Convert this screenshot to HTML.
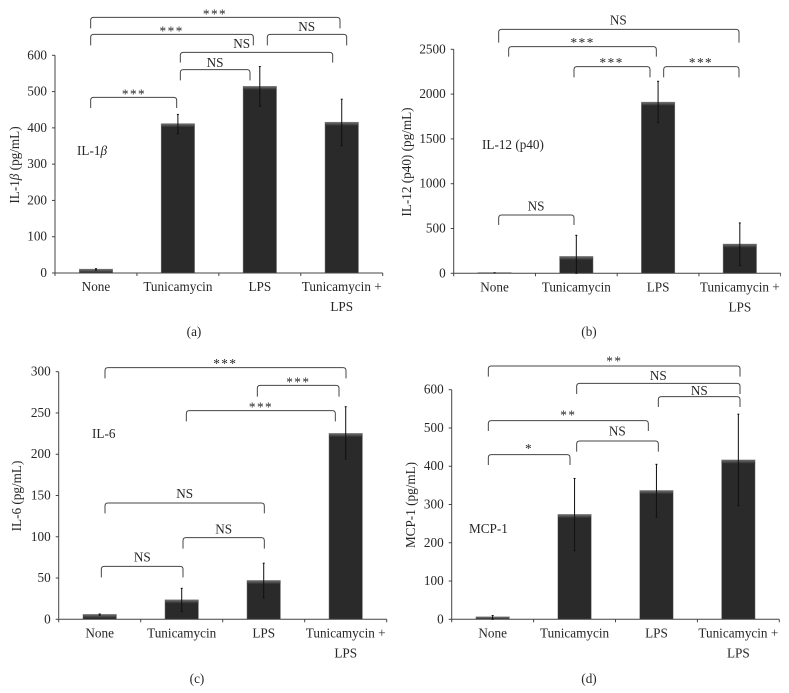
<!DOCTYPE html>
<html lang="en">
<head>
<meta charset="utf-8">
<title>Cytokine bar charts</title>
<style>
html,body{margin:0;padding:0;background:#fff;}
svg{display:block;}
text{font-family:"Liberation Serif",serif;fill:#262626;font-size:13.2px;}
</style>
</head>
<body>
<svg id="figure" xmlns="http://www.w3.org/2000/svg" width="789" height="693" viewBox="0 0 789 693">
  <defs>
    <linearGradient id="barTopShade" x1="0" y1="0" x2="0" y2="1">
      <stop offset="0" stop-color="#6e6e6e"/>
      <stop offset="1" stop-color="#2a2a2a"/>
    </linearGradient>
    <filter id="soften" x="0" y="0" width="100%" height="100%">
      <feGaussianBlur stdDeviation="0.3"/>
    </filter>
  </defs>
  <rect width="789" height="693" fill="#fff"/>

  <g filter="url(#soften)">
  <g id="panel-a"></g>
  <g id="panel-b"></g>
  <g id="panel-c"></g>
  <g id="panel-d"></g>

  <text x="15" y="165" transform="rotate(-90 15 165)" dy="4" text-anchor="middle">IL-1<tspan font-style="italic">β</tspan> (pg/mL)</text>
  <text x="407" y="162" transform="rotate(-90 407 162)" dy="4" text-anchor="middle">IL-12 (p40) (pg/mL)</text>
  <text x="17" y="496" transform="rotate(-90 17 496)" dy="4" text-anchor="middle">IL-6 (pg/mL)</text>
  <text x="411" y="505" transform="rotate(-90 411 505)" dy="4" text-anchor="middle">MCP-1 (pg/mL)</text>

  <text x="77" y="155">IL-1<tspan font-style="italic">β</tspan></text>
  <text x="482" y="149">IL-12 (p40)</text>
  <text x="92" y="438">IL-6</text>
  <text x="469" y="533">MCP-1</text>

  <text x="194" y="336" text-anchor="middle">(a)</text>
  <text x="589" y="336" text-anchor="middle">(b)</text>
  <text x="197" y="683" text-anchor="middle">(c)</text>
  <text x="589" y="683" text-anchor="middle">(d)</text>
  </g>
</svg>

<script>
const categories = ['None', 'Tunicamycin', 'LPS', 'Tunicamycin +|LPS'];

const il1bTicks = [0, 100, 200, 300, 400, 500, 600];
const il1bMeans = [10, 411, 514, 415];
const il1bHigh = [12, 437, 569, 479];
const il1bLow = [8, 384, 459, 351];

const il12Ticks = [0, 500, 1000, 1500, 2000, 2500];
const il12Means = [5, 186, 1908, 324];
const il12High = [6, 424, 2143, 562];
const il12Low = [4, 0, 1682, 86];

const il6Ticks = [0, 50, 100, 150, 200, 250, 300];
const il6Means = [5.7, 23.4, 46.8, 225];
const il6High = [6.5, 37.5, 68, 257.6];
const il6Low = [4.9, 9.3, 26, 194];

const mcp1Ticks = [0, 100, 200, 300, 400, 500, 600];
const mcp1Means = [6, 273.5, 336, 416];
const mcp1High = [10, 368, 405, 536];
const mcp1Low = [0, 179, 267, 297];

const NS = 'http://www.w3.org/2000/svg';

function make(parent, tag, attrs, name) {
  const el = document.createElementNS(NS, tag);
  for (const k in attrs) el.setAttribute(k, attrs[k]);
  
  
  parent.appendChild(el);
  return el;
}

function drawPanel(id, ticks, means, high, low, left, right, zeroY, topY) {
  const g = document.getElementById(id);
  const maxV = ticks[ticks.length - 1];
  const yScale = v => zeroY - (v / maxV) * (zeroY - topY);
  const step = (right - left) / categories.length;
  const xScale = i => left + (i + 0.5) * step;
  const barW = 33;

  // bars
  means.forEach((m, i) => {
    const x = xScale(i) - barW / 2;
    const y = yScale(m);
    make(g, 'rect', {x: x - 0.5, y: y - 0.5, width: barW + 1, height: zeroY - y + 0.5, fill: '#8a8a8a'}, 'bar-edge-' + i);
    make(g, 'rect', {x: x, y: y, width: barW, height: zeroY - y, fill: '#2a2a2a'}, 'bar-' + i);
    const capH = Math.min(3.5, zeroY - y);
    make(g, 'rect', {x: x, y: y, width: barW, height: capH, fill: 'url(#barTopShade)'}, 'bar-top-shade-' + i);
  });

  // axes
  make(g, 'line', {x1: left, y1: topY, x2: left, y2: zeroY, stroke: '#444', 'stroke-width': 1}, 'y-axis-line');
  make(g, 'line', {x1: left, y1: zeroY, x2: right, y2: zeroY, stroke: '#444', 'stroke-width': 1}, 'x-axis-line');
  ticks.forEach(t => {
    const y = yScale(t);
    make(g, 'line', {x1: left - 3, y1: y, x2: left, y2: y, stroke: '#444', 'stroke-width': 1}, 'y-tick-mark');
    const label = make(g, 'text', {x: left - 8, y: y + 4, 'text-anchor': 'end'}, 'y-tick-label');
    label.textContent = t;
  });
  for (let i = 0; i <= categories.length; i++) {
    const x = left + i * step;
    make(g, 'line', {x1: x, y1: zeroY, x2: x, y2: zeroY + 3, stroke: '#444', 'stroke-width': 1}, 'x-tick-mark');
  }

  // category labels
  categories.forEach((c, i) => {
    c.split('|').forEach((part, j) => {
      const label = make(g, 'text', {x: xScale(i), y: zeroY + 18 + j * 20, 'text-anchor': 'middle'}, 'x-category-label');
      label.textContent = part;
    });
  });

  // error bars
  means.forEach((m, i) => {
    const x = xScale(i);
    const yHi = yScale(high[i]);
    const yLo = yScale(low[i]);
    make(g, 'line', {x1: x, y1: yHi, x2: x, y2: yLo, stroke: '#111', 'stroke-width': 1}, 'error-bar-' + i);
    make(g, 'line', {x1: x - 1, y1: yHi, x2: x + 1, y2: yHi, stroke: '#111', 'stroke-width': 1}, 'error-cap-high-' + i);
    make(g, 'line', {x1: x - 1, y1: yLo, x2: x + 1, y2: yLo, stroke: '#111', 'stroke-width': 1}, 'error-cap-low-' + i);
  });
}

// Significance annotation, given in 3x crop units relative to the panel origin.
function bracket(id, ox, oy, x1, x2, top, bottom, label, lx, ly) {
  const g = document.getElementById(id);
  const X1 = ox + x1 / 3, X2 = ox + x2 / 3, T = oy + top / 3, B = oy + bottom / 3, r = 3;
  make(g, 'path', {
    d: 'M' + X1 + ' ' + B + 'V' + (T + r) + 'Q' + X1 + ' ' + T + ' ' + (X1 + r) + ' ' + T +
       'H' + (X2 - r) + 'Q' + X2 + ' ' + T + ' ' + X2 + ' ' + (T + r) + 'V' + B,
    fill: 'none', stroke: '#444', 'stroke-width': 1
  }, 'significance-bracket');
  const isStar = label.charAt(0) === '*';
  const t = make(g, 'text', {
    x: ox + lx / 3,
    y: oy + ly / 3 + (isStar ? 7 : 4.5),
    'text-anchor': 'middle',
    'letter-spacing': isStar ? '1.5px' : '0'
  }, 'significance-label');
  t.textContent = label;
}

drawPanel('panel-a', il1bTicks, il1bMeans, il1bHigh, il1bLow, 55, 382.7, 273, 55.3);
drawPanel('panel-b', il12Ticks, il12Means, il12High, il12Low, 453.7, 780.7, 273.3, 49.3);
drawPanel('panel-c', il6Ticks, il6Means, il6High, il6Low, 58.7, 386.7, 619.3, 371.7);
drawPanel('panel-d', mcp1Ticks, mcp1Means, mcp1High, mcp1Low, 451.7, 779.3, 619.3, 389.7);

bracket('panel-a', 0, 0, 272, 1020, 52, 85, '***', 645, 35);
bracket('panel-a', 0, 0, 272, 760, 103, 136, '***', 515, 85);
bracket('panel-a', 0, 0, 802, 1040, 103, 136, 'NS', 920, 80);
bracket('panel-a', 0, 0, 541, 998, 157, 188, 'NS', 725, 130);
bracket('panel-a', 0, 0, 541, 750, 209, 241, 'NS', 645, 187);
bracket('panel-a', 0, 0, 272, 530, 292, 324, '***', 402, 275);

bracket('panel-b', 395, 0, 311, 1032, 88, 128, 'NS', 670, 60);
bracket('panel-b', 395, 0, 341, 784, 140, 170, '***', 563, 120);
bracket('panel-b', 395, 0, 537, 765, 200, 232, '***', 650, 180);
bracket('panel-b', 395, 0, 806, 1032, 200, 232, '***', 918, 180);
bracket('panel-b', 395, 0, 311, 537, 645, 675, 'NS', 423, 618);

bracket('panel-c', 0, 345, 315, 1038, 68, 100, '***', 676, 48);
bracket('panel-c', 0, 345, 772, 1017, 121, 155, '***', 895, 103);
bracket('panel-c', 0, 345, 559, 1006, 197, 229, '***', 783, 178);
bracket('panel-c', 0, 345, 315, 793, 474, 505, 'NS', 554, 445);
bracket('panel-c', 0, 345, 549, 793, 578, 611, 'NS', 671, 552);
bracket('panel-c', 0, 345, 304, 549, 664, 697, 'NS', 427, 636);

bracket('panel-d', 395, 345, 280, 1035, 63, 95, '**', 658, 40);
bracket('panel-d', 395, 345, 545, 1035, 115, 147, 'NS', 790, 92);
bracket('panel-d', 395, 345, 790, 1035, 155, 186, 'NS', 913, 136);
bracket('panel-d', 395, 345, 280, 760, 227, 258, '**', 520, 202);
bracket('panel-d', 395, 345, 545, 790, 288, 320, 'NS', 667, 258);
bracket('panel-d', 395, 345, 280, 525, 329, 360, '*', 402, 303);
</script>
</body>
</html>
